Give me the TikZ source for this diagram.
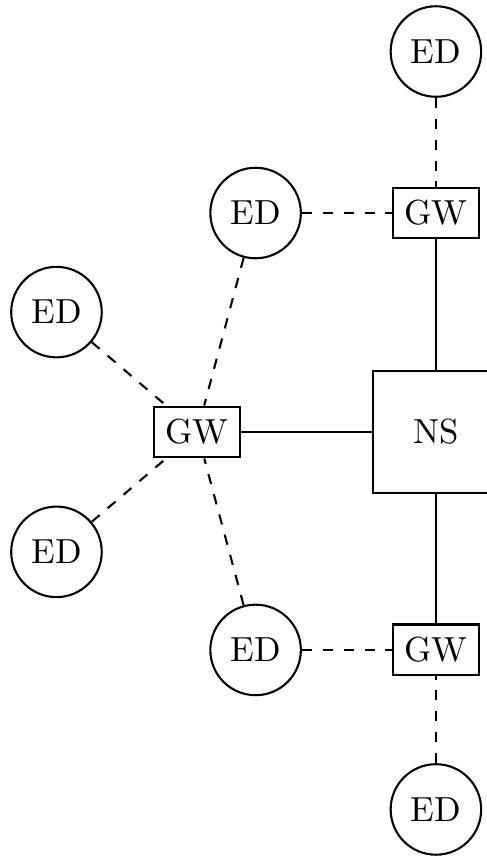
\documentclass[tikz,border=0pt]{standalone}
\begin{document}
\begin{tikzpicture}[
      ed/.style={circle,draw,semithick,minimum size=26pt,inner sep=1pt},
      gw/.style={rectangle,draw,semithick,minimum height=14.6pt},
      ns/.style={rectangle,draw,semithick,minimum width=1.27cm,minimum height=1.23cm},
      wire/.style={semithick},
      radio/.style={semithick,dashed}
    ]
      \useasboundingbox (-4.40,-4.29) rectangle (0.515,4.36);

      % network server
      \node[ns] (ns) at (0,0) {NS};

      % upper gateway
      \node[gw] (gwt) at (0,2.21) {GW};
      \node[ed] (edt) at (0,3.84) {ED};
      \node[ed] (edtl) at (-1.82,2.21) {ED};
      \draw[wire] (gwt) -- (ns);
      \draw[radio] (edt) -- (gwt); \draw[radio] (edtl) -- (gwt);

      % left gateway
      \node[gw] (gwl) at (-2.41,0) {GW};
      \node[ed] (edul) at (-3.83,1.21) {ED};
      \node[ed] (edll) at (-3.83,-1.21) {ED};
      \draw[wire] (gwl) -- (ns);
      \draw[radio] (edul) -- (gwl); \draw[radio] (edll) -- (gwl);
      \draw[radio] (edtl) -- (gwl);

      % lower gateway
      \node[gw] (gwb) at (0,-2.20) {GW};
      \node[ed] (edb) at (0,-3.81) {ED};
      \node[ed] (edbl) at (-1.82,-2.20) {ED};
      \draw[wire] (gwb) -- (ns);
      \draw[radio] (edb) -- (gwb); \draw[radio] (edbl) -- (gwb);
      \draw[radio] (edbl) -- (gwl);
\end{tikzpicture}
\end{document}
